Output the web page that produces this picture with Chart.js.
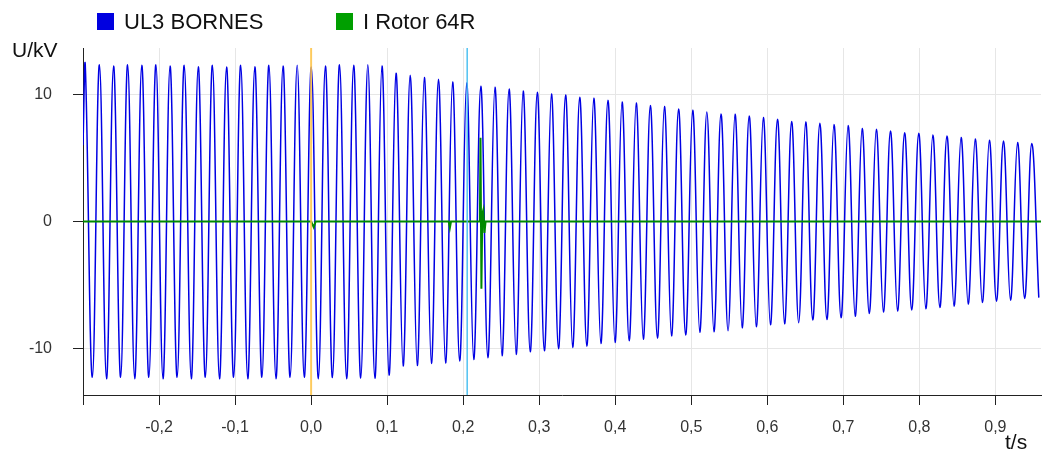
<!DOCTYPE html>
<html>
<head>
<meta charset="utf-8">
<script src="https://cdn.jsdelivr.net/npm/chart.js@4/dist/chart.umd.min.js"></script>
<style>
  html, body { margin: 0; padding: 0; background: #fff; }
  #wrap { width: 1044px; height: 455px; }
</style>
</head>
<body>
<div id="wrap"><canvas id="oscillo"></canvas></div>
<script>
const peakTime = [
  -0.2970, -0.2784, -0.2598, -0.2413, -0.2227, -0.2041, -0.1855, -0.1669, -0.1484, -0.1298,
  -0.1112, -0.0926, -0.0740, -0.0555, -0.0369, -0.0183, 0.0003, 0.0188, 0.0374, 0.0560,
  0.0746, 0.0932, 0.1117, 0.1303, 0.1489, 0.1675, 0.1861, 0.2046, 0.2232, 0.2418,
  0.2604, 0.2789, 0.2975, 0.3161, 0.3347, 0.3533, 0.3718, 0.3904, 0.4090, 0.4276,
  0.4462, 0.4647, 0.4833, 0.5019, 0.5205, 0.5391, 0.5576, 0.5762, 0.5948, 0.6134,
  0.6320, 0.6505, 0.6691, 0.6877, 0.7063, 0.7248, 0.7434, 0.7620, 0.7806, 0.7992,
  0.8177, 0.8363, 0.8549, 0.8735, 0.8921, 0.9106, 0.9292, 0.9478
];
const peakKv = [
  12.31, 12.36, 12.25, 12.36, 12.31, 12.36, 12.25, 12.31, 12.20, 12.31,
  12.18, 12.31, 12.20, 12.31, 12.25, 12.31, 12.18, 12.25, 12.36, 12.31,
  12.36, 12.25, 11.68, 11.52, 11.35, 11.20, 11.00, 10.92, 10.65, 10.58,
  10.43, 10.28, 10.18, 10.05, 9.97, 9.79, 9.71, 9.55, 9.42, 9.34,
  9.13, 9.06, 8.87, 8.76, 8.63, 8.47, 8.45, 8.31, 8.19, 8.06,
  7.87, 7.84, 7.74, 7.64, 7.56, 7.32, 7.27, 7.13, 7.00, 6.95,
  6.82, 6.74, 6.61, 6.50, 6.40, 6.35, 6.22, 6.14
];
const troughTime = [
  -0.2877, -0.2691, -0.2505, -0.2320, -0.2134, -0.1948, -0.1762, -0.1576, -0.1391, -0.1205,
  -0.1019, -0.0833, -0.0647, -0.0462, -0.0276, -0.0090, 0.0096, 0.0281, 0.0467, 0.0653,
  0.0839, 0.1025, 0.1210, 0.1396, 0.1582, 0.1768, 0.1954, 0.2139, 0.2325, 0.2511,
  0.2697, 0.2882, 0.3068, 0.3254, 0.3440, 0.3626, 0.3811, 0.3997, 0.4183, 0.4369,
  0.4555, 0.4740, 0.4926, 0.5112, 0.5298, 0.5484, 0.5669, 0.5855, 0.6041, 0.6227,
  0.6413, 0.6598, 0.6784, 0.6970, 0.7156, 0.7341, 0.7527, 0.7713, 0.7899, 0.8085,
  0.8270, 0.8456, 0.8642, 0.8828, 0.9014, 0.9199, 0.9385, 0.9571
];
const troughKv = [
  -12.28, -12.39, -12.28, -12.39, -12.28, -12.39, -12.28, -12.39, -12.28, -12.39,
  -12.28, -12.39, -12.28, -12.39, -12.28, -12.28, -12.39, -12.30, -12.39, -12.34,
  -12.36, -12.10, -11.39, -11.35, -11.18, -11.15, -11.00, -10.87, -10.74, -10.58,
  -10.47, -10.27, -10.19, -10.03, -9.92, -9.82, -9.61, -9.53, -9.40, -9.27,
  -9.19, -9.01, -8.95, -8.72, -8.69, -8.61, -8.38, -8.30, -8.14, -8.06,
  -7.98, -7.77, -7.72, -7.59, -7.46, -7.25, -7.14, -7.06, -6.98, -6.88,
  -6.77, -6.67, -6.51, -6.38, -6.28, -6.20, -6.06, -6.00
];
const ul3Start = { x: -0.3, y: 6.0 };

// I Rotor 64R
const rotorTime = [-0.3, 0.0, 0.0035, 0.006, 0.181, 0.1825, 0.184, 0.222, 0.2228, 0.2240, 0.2252, 0.2265, 0.2280, 0.2295, 0.96];
const rotorKv   = [0,    0,   -0.45,  0,     0,     -0.5,   0,     0,     6.6,    -5.3,   0.6,    0.9,    -0.9,   0,      0];

// marqueurs verticaux
const markerTime = [0.0, 0.2053];
const markerColor = ['rgba(255,196,70,0.85)', 'rgba(70,190,240,0.95)'];

const timeTicks = [-0.3, -0.2, -0.1, 0.0, 0.1, 0.2, 0.3, 0.4, 0.5, 0.6, 0.7, 0.8, 0.9];
const kvTicks = [-10, 0, 10];

const seriesNames = ['UL3 BORNES', 'I Rotor 64R'];
const seriesColors = ['#0000e0', '#009f00'];

// crêtes et creux remis dans l'ordre du temps
const ul3Points = [ul3Start];
peakTime.forEach((t, i) => {
  ul3Points.push({ x: t, y: peakKv[i] });
  ul3Points.push({ x: troughTime[i], y: troughKv[i] });
});
const rotorPoints = rotorTime.map((t, i) => ({ x: t, y: rotorKv[i] }));

const FONT = '"Liberation Sans", Arial, sans-serif';

const overlay = {
  id: 'overlay',
  afterDatasetsDraw(chart) {
    const { ctx, chartArea, scales } = chart;
    ctx.save();
    markerTime.forEach((t, i) => {
      const x = scales.x.getPixelForValue(t);
      ctx.strokeStyle = markerColor[i];
      ctx.lineWidth = i === 0 ? 2 : 1.5;
      ctx.beginPath();
      ctx.moveTo(x, chartArea.top);
      ctx.lineTo(x, chartArea.bottom);
      ctx.stroke();
    });
    ctx.restore();
  },
  afterDraw(chart) {
    const ctx = chart.ctx;
    ctx.save();
    ctx.textBaseline = 'alphabetic';
    ctx.textAlign = 'left';
    ctx.fillStyle = '#111';
    ctx.font = '22px ' + FONT;
    const legendX = [97, 336];
    seriesNames.forEach((name, i) => {
      ctx.fillStyle = seriesColors[i];
      ctx.fillRect(legendX[i], 13, 17, 17);
      ctx.fillStyle = '#111';
      ctx.fillText(name, legendX[i] + 27, 29);
    });
    ctx.font = '21px ' + FONT;
    ctx.fillText('U/kV', 12, 56.5);
    ctx.fillText('t/s', 1005, 449);
    ctx.restore();
  }
};

new Chart(document.getElementById('oscillo'), {
  type: 'line',
  data: {
    datasets: [{
      label: seriesNames[0],
      data: ul3Points,
      borderColor: 'rgb(0,0,228)',
      borderWidth: 1.5,
      pointRadius: 0,
      tension: 0.4,
      order: 1
    }, {
      label: seriesNames[1],
      data: rotorPoints,
      borderColor: '#008a00',
      borderWidth: 2,
      pointRadius: 0,
      tension: 0,
      order: 0
    }]
  },
  options: {
    responsive: true,
    maintainAspectRatio: false,
    animation: false,
    events: [],
    layout: { padding: { top: 48, right: 3, left: 0, bottom: 0 } },
    plugins: {
      legend: { display: false },
      tooltip: { enabled: false }
    },
    scales: {
      x: {
        type: 'linear',
        min: -0.3,
        max: 0.96,
        afterBuildTicks: scale => { scale.ticks = timeTicks.map(v => ({ value: v })); },
        afterFit: scale => { scale.height = 60; },
        grid: { color: '#e6e6e6', tickColor: '#222', tickLength: 10 },
        border: { color: '#222', width: 1 },
        ticks: {
          color: '#333',
          font: { family: FONT, size: 16 },
          padding: 13,
          maxRotation: 0,
          autoSkip: false,
          callback: v => (v <= -0.29 ? '' : v.toFixed(1).replace('.', ','))
        }
      },
      y: {
        min: -13.67,
        max: 13.67,
        afterBuildTicks: scale => { scale.ticks = kvTicks.map(v => ({ value: v })); },
        afterFit: scale => { scale.width = 83; },
        grid: { color: '#e6e6e6', tickColor: '#222', tickLength: 10 },
        border: { color: '#222', width: 1 },
        ticks: {
          color: '#333',
          font: { family: FONT, size: 16 },
          padding: 21,
          callback: v => String(v)
        }
      }
    }
  },
  plugins: [overlay]
});
</script>
</body>
</html>
